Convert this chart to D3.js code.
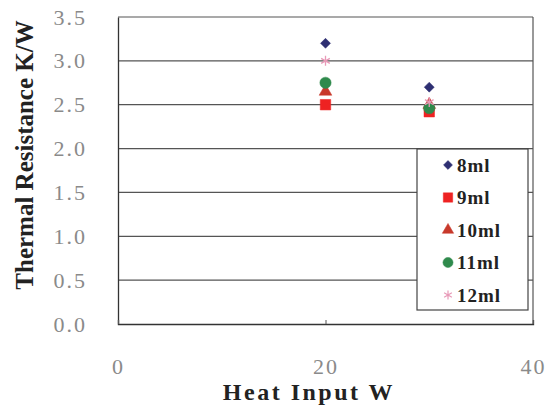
<!DOCTYPE html>
<html>
<head>
<meta charset="utf-8">
<script src="https://cdn.jsdelivr.net/npm/d3@7"></script>
<style>
body { margin: 0; background: #fff; }
</style>
</head>
<body>
<div id="chart"></div>
<script>
// data
var heatInput = [20, 30];
var seriesNames = ['8ml', '9ml', '10ml', '11ml', '12ml'];
var val8 = [3.2, 2.7];
var val9 = [2.5, 2.42];
var val10 = [2.65, 2.5];
var val11 = [2.75, 2.46];
var val12 = [3.0, 2.53];
var yTicks = [0, 0.5, 1.0, 1.5, 2.0, 2.5, 3.0, 3.5];
var xTicks = [0, 20, 40];

var FONT = 'Liberation Serif';

var width = 548, height = 411;
var margin = { top: 17, right: 15, bottom: 87, left: 118 };

var svg = d3.select('#chart')
    .append('svg')
    .attr('width', width)
    .attr('height', height)
    .attr('font-family', FONT);

var w = width - margin.left - margin.right;
var h = height - margin.top - margin.bottom;

var g = svg.append('g')
    .attr('transform', 'translate(' + margin.left + ',' + margin.top + ')');

var x_scale = d3.scaleLinear().domain([0, 40]).range([0, w]);
var y_scale = d3.scaleLinear().domain([0, 3.5]).range([h, 0]);

// gridlines
g.selectAll('.grid')
    .data(yTicks.slice(1))
    .enter()
    .append('line')
    .attr('x1', 0)
    .attr('x2', w)
    .attr('y1', function(d) { return y_scale(d); })
    .attr('y2', function(d) { return y_scale(d); })
    .attr('stroke', '#555')
    .attr('stroke-width', 1.2);

// frame
g.append('line').attr('x1', w).attr('x2', w).attr('y1', 0).attr('y2', h)
    .attr('stroke', '#555').attr('stroke-width', 1.2);

var y_axis = d3.axisLeft(y_scale)
    .tickValues(yTicks)
    .tickSize(0)
    .tickPadding(31)
    .tickFormat(d3.format('.1f'));

var x_axis = d3.axisBottom(x_scale)
    .tickValues(xTicks)
    .tickSize(-4)
    .tickPadding(34);

g.append('g').attr('class', 'y axis').call(y_axis);
g.append('g').attr('class', 'x axis')
    .attr('transform', 'translate(0,' + h + ')')
    .call(x_axis);

g.selectAll('.axis').attr('font-family', FONT).attr('font-size', 22);
g.selectAll('.axis path').attr('stroke', '#333').attr('stroke-width', 1.3);
g.selectAll('.axis line').attr('stroke', '#555');
g.selectAll('.axis text')
    .attr('fill', '#8a8a8a')
    .attr('letter-spacing', 2);

// axis titles
svg.append('text')
    .attr('transform', 'translate(33,155) rotate(-90)')
    .attr('text-anchor', 'middle')
    .attr('font-size', 25)
    .attr('font-weight', 'bold')
    .attr('fill', '#222')
    .text('Thermal Resistance K/W');

svg.append('text')
    .attr('x', 309)
    .attr('y', 400)
    .attr('text-anchor', 'middle')
    .attr('font-size', 24)
    .attr('font-weight', 'bold')
    .attr('letter-spacing', 2.5)
    .attr('fill', '#222')
    .text('Heat Input W');

// diamond drawn as a square turned 45 degrees
var diamond = {
    draw: function(context, size) {
        var r = Math.sqrt(size / 2);
        context.moveTo(0, -r);
        context.lineTo(r, 0);
        context.lineTo(0, r);
        context.lineTo(-r, 0);
        context.closePath();
    }
};

// series
var series = [
    { name: seriesNames[0], values: val8, symbol: diamond, size: 50, color: '#2e2f72' },
    { name: seriesNames[1], values: val9, symbol: d3.symbolSquare, size: 110, color: '#ee2222' },
    { name: seriesNames[2], values: val10, symbol: d3.symbolTriangle, size: 70, color: '#c8392b' },
    { name: seriesNames[3], values: val11, symbol: d3.symbolCircle, size: 100, color: '#2f8a4c' },
    { name: seriesNames[4], values: val12, symbol: d3.symbolAsterisk, size: 70, color: '#e89ab8' }
];

series.forEach(function(s, k) {
    g.selectAll('.pt' + k)
        .data(s.values)
        .enter()
        .append('path')
        .attr('class', 'pt' + k)
        .attr('d', d3.symbol().type(s.symbol).size(s.size))
        .attr('transform', function(d, i) {
            return 'translate(' + x_scale(heatInput[i]) + ',' + y_scale(d) + ')';
        })
        .attr('fill', s.symbol === d3.symbolAsterisk ? 'none' : s.color)
        .attr('stroke', s.color)
        .attr('stroke-width', s.symbol === d3.symbolAsterisk ? 1.3 : 0.5);
});

// legend
var legend = svg.append('g').attr('transform', 'translate(417,149)');
legend.append('rect')
    .attr('width', 111)
    .attr('height', 161)
    .attr('fill', '#fff')
    .attr('stroke', '#444')
    .attr('stroke-width', 1.2);

var items = legend.selectAll('.item')
    .data(series)
    .enter()
    .append('g')
    .attr('transform', function(d, i) { return 'translate(31,' + (16 + i * 32.5) + ')'; });

items.append('path')
    .attr('d', function(d) { return d3.symbol().type(d.symbol).size(d.size * 0.8)(); })
    .attr('fill', function(d) { return d.symbol === d3.symbolAsterisk ? 'none' : d.color; })
    .attr('stroke', function(d) { return d.color; })
    .attr('stroke-width', function(d) { return d.symbol === d3.symbolAsterisk ? 1.2 : 0.5; });

items.append('text')
    .attr('x', 9)
    .attr('dy', '0.35em')
    .attr('font-size', 19)
    .attr('font-weight', 'bold')
    .attr('letter-spacing', 1)
    .attr('fill', '#222')
    .text(function(d) { return d.name; });
</script>
</body>
</html>
